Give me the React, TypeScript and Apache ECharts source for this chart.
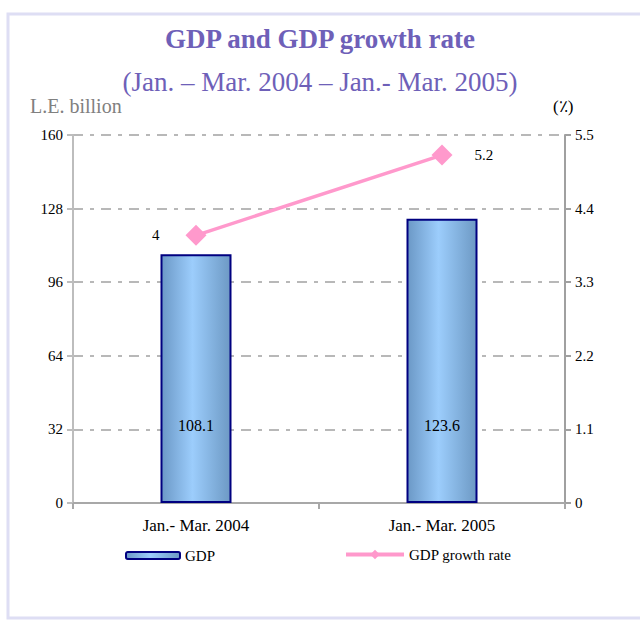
import React, { useEffect, useRef } from "react";
import * as echarts from "echarts";

const categories = ["Jan.- Mar. 2004", "Jan.- Mar. 2005"];
const gdpValues = [108.1, 123.6];
const growthValues = [4, 5.2];
const leftTicks = { min: 0, max: 160, interval: 32 };
const rightTicks = { min: 0, max: 5.5, interval: 1.1 };

const SERIF = "Liberation Serif";

export default function App() {
  const ref = useRef<HTMLDivElement>(null);
  useEffect(() => {
    if (!ref.current) return;
    const chart = echarts.init(ref.current, null, { renderer: "svg" });
    const barGradient = new echarts.graphic.LinearGradient(0, 0, 1, 0, [
      { offset: 0, color: "#6b98c6" },
      { offset: 0.45, color: "#9ccdfc" },
      { offset: 1, color: "#6d99c4" },
    ]);
    const dash = [10, 7, 4, 7];
    chart.setOption({
      animation: false,
      backgroundColor: "#ffffff",
      title: [
        {
          text: "GDP and GDP growth rate",
          left: "center",
          top: 20,
          textStyle: { fontFamily: SERIF, fontSize: 27, fontWeight: "bold", color: "#6e60b8" },
        },
        {
          text: "(Jan. – Mar. 2004 – Jan.- Mar. 2005)",
          left: "center",
          top: 63,
          textStyle: { fontFamily: SERIF, fontSize: 27, fontWeight: "normal", color: "#6e60b8" },
        },
      ],
      graphic: [
        {
          type: "rect",
          shape: { x: 8, y: 14, width: 660, height: 604 },
          style: { fill: "none", stroke: "#dedef4", lineWidth: 3 },
          silent: true,
        },
        {
          type: "text",
          left: 30,
          top: 96,
          style: { text: "L.E. billion", fontFamily: SERIF, fontSize: 20, fill: "#808080" },
        },
        {
          type: "text",
          left: 553,
          top: 98,
          style: { text: "(٪)", fontFamily: SERIF, fontSize: 17, fill: "#000000" },
        },
      ],
      legend: [
        {
          data: ["GDP"],
          left: 125,
          top: 548,
          padding: 0,
          itemWidth: 54,
          itemHeight: 7,
          textStyle: { fontFamily: SERIF, fontSize: 15, color: "#000" },
        },
        {
          data: ["GDP growth rate"],
          left: 344,
          top: 547,
          padding: 0,
          itemWidth: 58,
          itemHeight: 12,
          lineStyle: { width: 4 },
          textStyle: { fontFamily: SERIF, fontSize: 15, color: "#000" },
        },
      ],
      grid: { left: 73, right: 75, top: 135, bottom: 118, containLabel: false },
      xAxis: {
        type: "category",
        data: categories,
        axisLine: { lineStyle: { color: "#a8a8a8", width: 2 } },
        axisTick: { show: true, length: 6, lineStyle: { color: "#a8a8a8", width: 2 } },
        axisLabel: { fontFamily: SERIF, fontSize: 17, color: "#000", margin: 14 },
      },
      yAxis: [
        {
          type: "value",
          min: leftTicks.min,
          max: leftTicks.max,
          interval: leftTicks.interval,
          axisLine: { show: true, lineStyle: { color: "#bdbdbd", width: 2 } },
          axisTick: { show: true, length: 6, lineStyle: { color: "#bdbdbd", width: 2 } },
          axisLabel: { fontFamily: SERIF, fontSize: 15, color: "#000", margin: 10 },
          splitLine: { show: true, lineStyle: { color: "#b8b8b8", width: 2, type: dash } },
        },
        {
          type: "value",
          min: rightTicks.min,
          max: rightTicks.max,
          interval: rightTicks.interval,
          position: "right",
          axisLine: { show: true, lineStyle: { color: "#a0a0a0", width: 2 } },
          axisTick: { show: true, length: 6, lineStyle: { color: "#a0a0a0", width: 2 } },
          axisLabel: {
            fontFamily: SERIF,
            fontSize: 15,
            color: "#000",
            margin: 10,
            formatter: (v: number) => (v === 0 ? "0" : v.toFixed(1)),
          },
          splitLine: { show: false },
        },
      ],
      series: [
        {
          name: "GDP",
          type: "bar",
          data: gdpValues,
          barWidth: 71,
          itemStyle: { color: barGradient, borderColor: "#000080", borderWidth: 2 },
          label: {
            show: true,
            position: "insideBottom",
            distance: 70,
            fontFamily: SERIF,
            fontSize: 16,
            color: "#000",
          },
        },
        {
          name: "GDP growth rate",
          type: "line",
          yAxisIndex: 1,
          data: [
            { value: growthValues[0], label: { position: "left", distance: 26 } },
            { value: growthValues[1], label: { position: "right", distance: 22 } },
          ],
          symbol: "diamond",
          symbolSize: 21,
          lineStyle: { color: "#ff99cc", width: 3.5 },
          itemStyle: { color: "#ff99cc" },
          label: {
            show: true,
            fontFamily: SERIF,
            fontSize: 15,
            color: "#000",
          },
        },
      ],
    });
    return () => chart.dispose();
  }, []);
  return (
    <div
      ref={ref}
      style={{ position: "absolute", left: 0, top: 0, width: 640, height: 621 }}
    />
  );
}
